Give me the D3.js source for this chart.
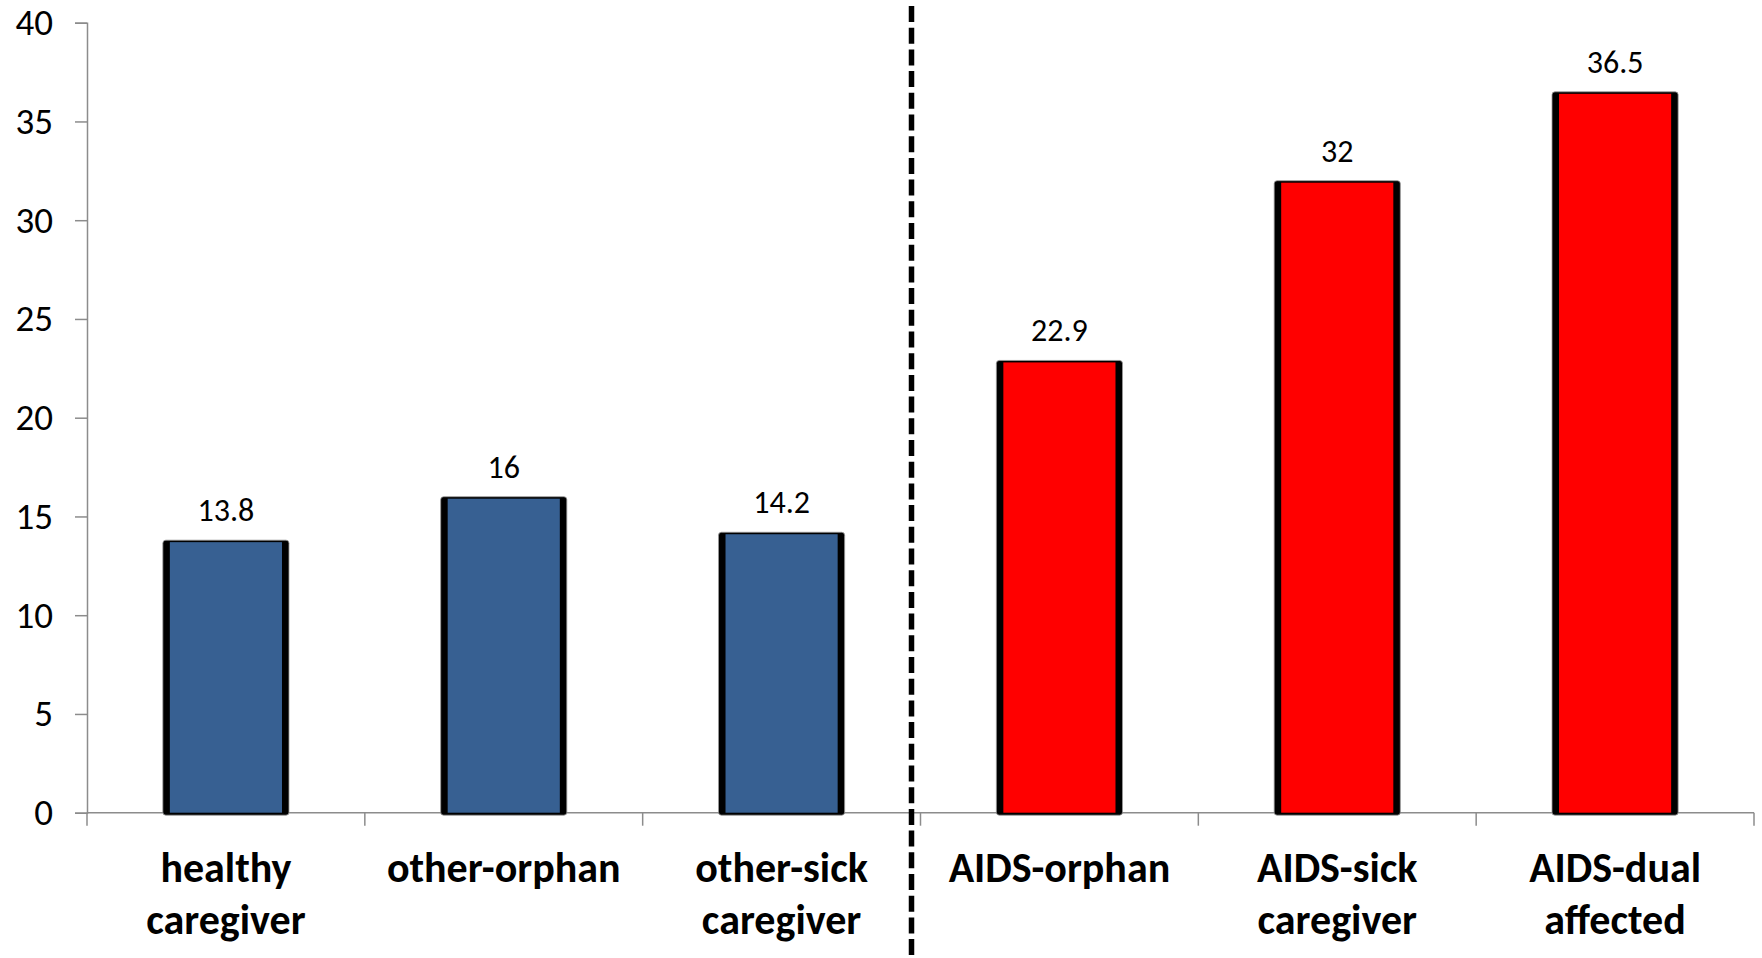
<!DOCTYPE html>
<html>
<head>
<meta charset="utf-8">
<script src="https://cdn.jsdelivr.net/npm/d3@7"></script>
<style>
  html, body { margin: 0; padding: 0; background: #fff; }
  svg { display: block; }
  text { font-family: Carlito, Calibri, Lato, sans-serif; }
</style>
</head>
<body>
<svg id="chart" width="1762" height="958"></svg>
<script>
// ---- data ----
const categories = [
  ["healthy", "caregiver"],
  ["other-orphan"],
  ["other-sick", "caregiver"],
  ["AIDS-orphan"],
  ["AIDS-sick", "caregiver"],
  ["AIDS-dual", "affected"]
];
const values = [13.8, 16, 14.2, 22.9, 32, 36.5];
const valueLabels = ["13.8", "16", "14.2", "22.9", "32", "36.5"];
const groups = ["other", "other", "other", "AIDS", "AIDS", "AIDS"];
const yTicks = [0, 5, 10, 15, 20, 25, 30, 35, 40];

// ---- layout ----
const W = 1762, H = 958;
const mLeft = 87, mRight = 1754, mTop = 22.7, mBottom = 812.7;
const svg = d3.select("#chart");

const keys = categories.map(c => c.join(" "));
const x = d3.scaleBand().domain(keys).range([mLeft, mRight]).paddingInner(0.546).paddingOuter(0.273);
const y = d3.scaleLinear().domain([0, 40]).range([mBottom, mTop]);
const color = d3.scaleOrdinal().domain(["other", "AIDS"]).range(["#376092", "#FF0000"]);
const axisColor = "#8c8c8c";

// y axis
const yAxis = svg.append("g").attr("transform", `translate(${mLeft},0)`)
  .call(d3.axisLeft(y).tickValues(yTicks).tickSize(12).tickPadding(22).tickFormat(d3.format("d")));
yAxis.select(".domain").attr("stroke", axisColor).attr("stroke-width", 1.5);
yAxis.selectAll(".tick line").attr("stroke", axisColor).attr("stroke-width", 1.5);
yAxis.selectAll(".tick text").attr("font-size", 37).attr("fill", "#000");

// x axis line and ticks at band boundaries
const step = x.step();
const boundaries = d3.range(categories.length + 1).map(i => mLeft + i * step);
svg.append("line").attr("x1", mLeft).attr("x2", mRight).attr("y1", mBottom).attr("y2", mBottom)
  .attr("stroke", axisColor).attr("stroke-width", 1.5);
svg.selectAll(".xtick").data(boundaries).join("line")
  .attr("x1", d => d).attr("x2", d => d).attr("y1", mBottom).attr("y2", mBottom + 13)
  .attr("stroke", axisColor).attr("stroke-width", 1.5);

// bars
const bw = x.bandwidth();
const edge = 7;
const barG = svg.append("g");
values.forEach((v, i) => {
  const bx = x(keys[i]);
  const by = y(v);
  barG.append("rect").attr("x", bx).attr("y", by).attr("width", bw).attr("height", mBottom - by + 2.5)
    .attr("rx", 3).attr("fill", "#000").attr("stroke", "#9a9a9a").attr("stroke-width", 0.8);
  barG.append("rect").attr("x", bx + edge).attr("y", by + 2).attr("width", bw - 2 * edge).attr("height", mBottom - by - 2)
    .attr("fill", color(groups[i]));
  barG.append("text").attr("x", bx + bw / 2).attr("y", by - 19)
    .attr("text-anchor", "middle").attr("font-size", 32).attr("fill", "#000")
    .text(valueLabels[i]);
});

// category labels
categories.forEach((lines, i) => {
  const cx = x(keys[i]) + bw / 2;
  const t = svg.append("text").attr("text-anchor", "middle").attr("font-size", 42)
    .attr("font-weight", "bold").attr("fill", "#000");
  lines.forEach((ln, j) => {
    t.append("tspan").attr("x", cx).attr("y", 882 + j * 52).text(ln);
  });
});

// dashed separator between groups
const sepX = boundaries[3] - 9;
svg.append("line").attr("x1", sepX).attr("x2", sepX).attr("y1", 6).attr("y2", H)
  .attr("stroke", "#000").attr("stroke-width", 5.5).attr("stroke-dasharray", "16 5.7");
</script>
</body>
</html>
